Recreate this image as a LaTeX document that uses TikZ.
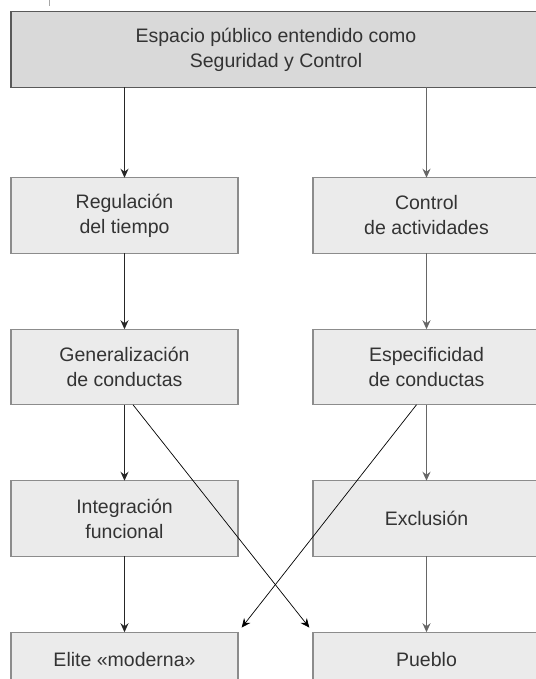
\documentclass[tikz,border=0pt]{standalone}
\usepackage{fontspec}
\setmainfont{Liberation Sans}
\usetikzlibrary{arrows.meta,positioning}

\begin{document}
\begin{tikzpicture}
  [x=1pt, y=1pt, node distance=76pt and 75pt,
   every node/.style={shape=rectangle, align=center, text=black!80, font=\fontsize{19.5}{25}\selectfont},
   box/.style={draw=black!45, line width=1.2pt, fill=black!8, minimum width=227pt, minimum height=75.5pt, inner sep=0pt, outer sep=0pt},
   headbox/.style={box, draw=black!65, fill=black!15, minimum width=530pt},
   endbox/.style={box, minimum height=55pt},
   arrow/.style={-{Stealth[length=9pt,width=8pt]}, line width=1.1pt, black!85},
   grayarrow/.style={arrow, black!60},
   cross/.style={-{Stealth[length=9pt,width=8pt]}, line width=0.7pt, black, shorten >=6pt}]
  \useasboundingbox (0,0) rectangle (535,-679);
  \draw[black!35] (49,0) -- (49,-6);
  \node[headbox] (espacio) at (276,-49.5) {Espacio público entendido como\\Seguridad y Control};
  \node[box] (regulacion) at (124.5,-215.5) {Regulación\\del tiempo};
  \node[box, right=of regulacion] (control) {Control\\de actividades};
  \node[box, below=of regulacion] (generalizacion) {Generalización\\de conductas};
  \node[box, below=of control] (especificidad) {Especificidad\\de conductas};
  \node[box, below=of generalizacion] (integracion) {Integración\\funcional};
  \node[box, below=of especificidad] (exclusion) {Exclusión};
  \node[endbox, below=of integracion] (elite) {Elite «moderna»};
  \node[endbox, below=of exclusion] (pueblo) {Pueblo};
  \draw[arrow] (espacio.south -| regulacion) -- (regulacion.north);
  \draw[grayarrow] (espacio.south -| control) -- (control.north);
  \draw[arrow] (regulacion) -- (generalizacion);
  \draw[grayarrow] (control) -- (especificidad);
  \draw[arrow] (generalizacion) -- (integracion);
  \draw[grayarrow] (especificidad) -- (exclusion);
  \draw[arrow] (integracion) -- (elite);
  \draw[grayarrow] (exclusion) -- (pueblo);
  \draw[cross] ([xshift=8.5pt]generalizacion.south) -- (pueblo.north west);
  \draw[cross] ([xshift=-10pt]especificidad.south) -- (elite.north east);
\end{tikzpicture}
\end{document}
